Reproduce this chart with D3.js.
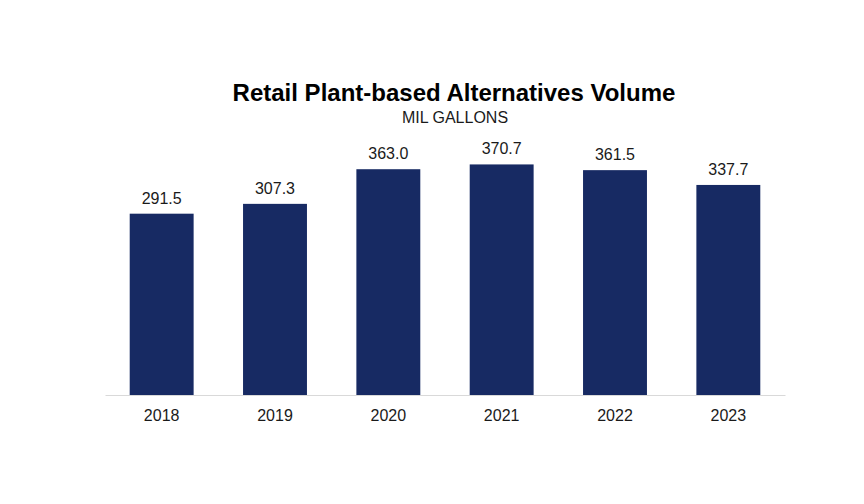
<!DOCTYPE html>
<html>
<head>
<meta charset="utf-8">
<script src="https://cdn.jsdelivr.net/npm/d3@7"></script>
<style>
  html, body { margin: 0; padding: 0; background: #fff; }
  svg { display: block; font-family: "Liberation Sans", Arial, sans-serif; }
</style>
</head>
<body>
<div id="chart"></div>
<script>
// data
const years = ["2018", "2019", "2020", "2021", "2022", "2023"];
const volumes = [291.5, 307.3, 363.0, 370.7, 361.5, 337.7];

const W = 864, H = 504;

const svg = d3.select("#chart")
  .append("svg")
  .attr("width", W)
  .attr("height", H);

const x = d3.scaleBand()
  .domain(years)
  .range([105, 785])
  .paddingInner(0.436)
  .paddingOuter(0.218);

const y = d3.scaleLinear()
  .domain([0, 400])
  .range([395, 146.2]);

// title
svg.append("text")
  .attr("x", 454)
  .attr("y", 101)
  .attr("text-anchor", "middle")
  .style("font-size", "24px")
  .style("font-weight", "bold")
  .style("fill", "#000")
  .text("Retail Plant-based Alternatives Volume");

svg.append("text")
  .attr("x", 455)
  .attr("y", 122.5)
  .attr("text-anchor", "middle")
  .style("font-size", "16px")
  .style("fill", "#1a1a1a")
  .text("MIL GALLONS");

// bars
svg.selectAll("rect.bar")
  .data(years)
  .enter()
  .append("rect")
  .attr("class", "bar")
  .attr("x", d => x(d))
  .attr("y", (d, i) => y(volumes[i]))
  .attr("width", x.bandwidth())
  .attr("height", (d, i) => y(0) - y(volumes[i]))
  .attr("fill", "#172a63");

// value labels
svg.selectAll("text.value")
  .data(years)
  .enter()
  .append("text")
  .attr("class", "value")
  .attr("x", d => x(d) + x.bandwidth() / 2)
  .attr("y", (d, i) => y(volumes[i]) - 10)
  .attr("text-anchor", "middle")
  .style("font-size", "16px")
  .style("fill", "#1a1a1a")
  .text((d, i) => volumes[i].toFixed(1));

// x axis
const xAxis = svg.append("g")
  .attr("transform", `translate(0,${y(0)})`)
  .call(d3.axisBottom(x).tickSize(0).tickPadding(15));

xAxis.select(".domain")
  .attr("stroke", "#d9d9d9")
  .attr("stroke-width", 1);

xAxis.selectAll(".tick text")
  .style("font-size", "16px")
  .style("font-family", "\"Liberation Sans\", Arial, sans-serif")
  .style("fill", "#1a1a1a");
</script>
</body>
</html>
